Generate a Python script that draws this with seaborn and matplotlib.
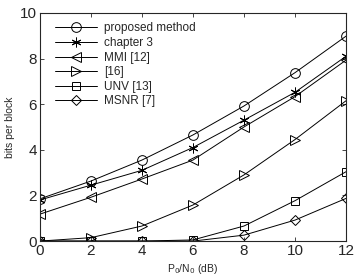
import matplotlib
matplotlib.use("Agg")
import matplotlib.pyplot as plt
import seaborn as sns
import pandas as pd

sns.set_style("ticks")
plt.rcParams['font.family'] = ['Liberation Sans', 'DejaVu Sans']
plt.rcParams['xtick.direction'] = 'in'
plt.rcParams['ytick.direction'] = 'in'

snr = [0, 2, 4, 6, 8, 10, 12]
proposed = [1.85, 2.63, 3.55, 4.65, 5.92, 7.38, 8.98]
chapter3 = [1.80, 2.45, 3.10, 4.10, 5.30, 6.52, 8.10]
mmi = [1.18, 1.92, 2.72, 3.55, 5.00, 6.33, 7.93]
ref16 = [0.0, 0.15, 0.66, 1.58, 2.90, 4.45, 6.15]
unv = [0.0, 0.0, 0.0, 0.05, 0.66, 1.77, 3.04]
msnr = [0.0, 0.0, 0.0, 0.0, 0.26, 0.92, 1.87]

names = ["proposed method", "chapter 3", "MMI [12]", "[16]", "UNV [13]", "MSNR [7]"]
series = [proposed, chapter3, mmi, ref16, unv, msnr]
markers = ["o", (6, 2, 0), "<", ">", "s", "D"]
msizes = [7, 7, 7, 7, 5.5, 5.5]

fig, ax = plt.subplots(figsize=(3.56, 2.8), dpi=100)
fig.subplots_adjust(left=0.112, right=0.972, top=0.954, bottom=0.139)

for name, vals, m, s in zip(names, series, markers, msizes):
    df = pd.DataFrame({"snr": snr, "bits": vals})
    sns.lineplot(data=df, x="snr", y="bits", ax=ax, color="black", lw=0.7,
                 marker=m, markersize=s, markerfacecolor="none",
                 markeredgecolor="black", markeredgewidth=0.7, label=name)

ax.set_xlim(0, 12)
ax.set_ylim(0, 10)
ax.set_xticks(range(0, 13, 2))
ax.set_yticks(range(0, 11, 2))
ax.tick_params(labelsize=11, top=True, right=True, length=3, width=0.6, pad=2)
for sp in ax.spines.values():
    sp.set_linewidth(0.8)
    sp.set_visible(True)
ax.set_xlabel("P$_0$/N$_0$ (dB)", fontsize=7.5, labelpad=3)
ax.set_ylabel("bits per block", fontsize=7.5, labelpad=4)
ax.legend(loc="upper left", frameon=False, fontsize=8.5, handlelength=3.6,
          handletextpad=0.6, labelspacing=0.22, borderpad=0, borderaxespad=0,
          bbox_to_anchor=(0.049, 0.958))

fig.savefig("out.png", dpi=100)
